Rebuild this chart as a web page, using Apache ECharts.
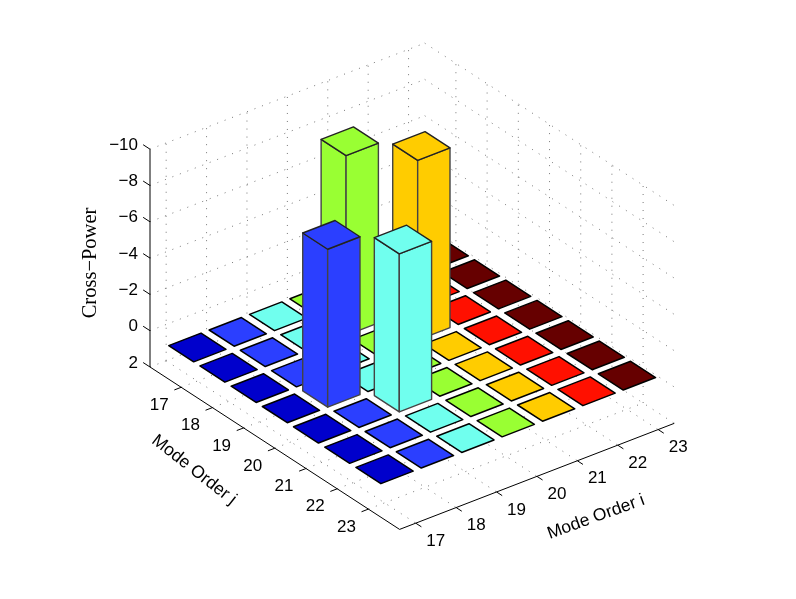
<!DOCTYPE html>
<html>
<head>
<meta charset="utf-8">
<style>
  html, body { margin: 0; padding: 0; background: #fff; }
  #main { width: 796px; height: 599px; }
</style>
<script src="https://cdn.jsdelivr.net/npm/echarts@6/dist/echarts.min.js"></script>
</head>
<body>
<div id="main"></div>
<script>
// data
var iOrders = [17, 18, 19, 20, 21, 22, 23];
var jOrders = [17, 18, 19, 20, 21, 22, 23];
var zTicks = [2, 0, -2, -4, -6, -8, -10];
var iColors = ['#0000cc', '#2b3fff', '#70ffee', '#99ff33', '#ffcc00', '#ff1000', '#660000'];
// one row per j, one column per i
var row17 = [0.15, 0.15, 0.15, 0.15, 0.15, 0.15, 0.15];
var row18 = [0.15, 0.15, 0.15, -9.75, 0.15, 0.15, 0.15];
var row19 = [0.15, 0.15, 0.15, 0.15, -9.75, 0.15, 0.15];
var row20 = [0.15, -8.55, 0.15, 0.15, 0.15, 0.15, 0.15];
var row21 = [0.15, 0.15, -8.55, 0.15, 0.15, 0.15, 0.15];
var row22 = [0.15, 0.15, 0.15, 0.15, 0.15, 0.15, 0.15];
var row23 = [0.15, 0.15, 0.15, 0.15, 0.15, 0.15, 0.15];
var crossPower = [row17, row18, row19, row20, row21, row22, row23];
var floorLevel = 0.15;

// axis limits of the 3d box
var iMin = 16.6, iMax = 23.4, jMin = 16, jMax = 24, zBottom = 2, zTop = -10;
var barHalf = 0.4;

// view: where one unit of i, j, z lands on the paper
function project(i, j, z) {
  return [
    150 + (i - iMin) * 40.4 + (j - jMin) * 31.2,
    367 - (i - iMin) * 15.6 + (j - jMin) * 20.3 + (z - zBottom) * 18.15
  ];
}

// bars, back to front
var barData = [];
jOrders.forEach(function (j, r) {
  iOrders.forEach(function (i, c) {
    barData.push([i, j, crossPower[r][c], c]);
  });
});
barData.sort(function (a, b) { return (a[1] - a[0]) - (b[1] - b[0]); });

// dotted grid on floor and the two back walls
var gridData = [];
iOrders.forEach(function (i) {
  gridData.push([i, jMin, zBottom, i, jMax, zBottom]);
  gridData.push([i, jMin, zBottom, i, jMin, zTop]);
});
jOrders.forEach(function (j) {
  gridData.push([iMin, j, zBottom, iMax, j, zBottom]);
  gridData.push([iMax, j, zBottom, iMax, j, zTop]);
});
zTicks.forEach(function (z) {
  gridData.push([iMin, jMin, z, iMax, jMin, z]);
  gridData.push([iMax, jMin, z, iMax, jMax, z]);
});

// solid axes and tick marks
var axisData = [
  [iMin, jMin, zBottom, iMin, jMin, zTop],
  [iMin, jMin, zBottom, iMin, jMax, zBottom],
  [iMin, jMax, zBottom, iMax, jMax, zBottom]
];
zTicks.forEach(function (z) { axisData.push([iMin, jMin, z, iMin, jMin - 0.22, z]); });
jOrders.forEach(function (j) { axisData.push([iMin, j, zBottom, iMin - 0.17, j, zBottom]); });
iOrders.forEach(function (i) { axisData.push([i, jMax, zBottom, i, jMax + 0.18, zBottom]); });

// tick labels: [i, j, z, text, dx, dy, align]
var labelData = [];
zTicks.forEach(function (z) {
  labelData.push([iMin, jMin, z, String(z).replace('-', '\u2212'), -12, -4, 'right']);
});
jOrders.forEach(function (j) { labelData.push([iMin, j, zBottom, String(j), -22, 18, 'center']); });
iOrders.forEach(function (i) { labelData.push([i, jMax, zBottom, String(i), 20, 18, 'center']); });

function renderSegment(lineStyle) {
  return function (params, api) {
    var a = api.coord(project(api.value(0), api.value(1), api.value(2)));
    var b = api.coord(project(api.value(3), api.value(4), api.value(5)));
    return {
      type: 'line',
      shape: { x1: a[0], y1: a[1], x2: b[0], y2: b[1] },
      style: lineStyle
    };
  };
}

function renderBar(params, api) {
  var i = api.value(0), j = api.value(1), v = api.value(2);
  var color = iColors[api.value(3)];
  var pt = function (di, dj, z) {
    return api.coord(project(i + di * barHalf, j + dj * barHalf, z));
  };
  var face = function (pts, edge, w) {
    return {
      type: 'polygon',
      shape: { points: pts },
      style: { fill: color, stroke: edge, lineWidth: w, lineJoin: 'round' }
    };
  };
  if (v === floorLevel) {
    return {
      type: 'group',
      children: [face([pt(-1, -1, v), pt(-1, 1, v), pt(1, 1, v), pt(1, -1, v)], '#000', 1.5)]
    };
  }
  return {
    type: 'group',
    children: [
      face([pt(-1, -1, floorLevel), pt(-1, 1, floorLevel), pt(-1, 1, v), pt(-1, -1, v)], '#444', 1.4),
      face([pt(-1, 1, floorLevel), pt(1, 1, floorLevel), pt(1, 1, v), pt(-1, 1, v)], '#444', 1.4),
      face([pt(-1, -1, v), pt(-1, 1, v), pt(1, 1, v), pt(1, -1, v)], '#222', 1.4)
    ]
  };
}

function renderLabel(params, api) {
  var d = labelData[params.dataIndex];
  var p = api.coord(project(d[0], d[1], d[2]));
  return {
    type: 'text',
    x: p[0] + d[4],
    y: p[1] + d[5],
    style: {
      text: d[3],
      fill: '#000',
      font: '17px "Liberation Sans"',
      textAlign: d[6],
      textVerticalAlign: 'middle'
    }
  };
}

function title(text, x, y, deg, font) {
  return {
    type: 'text',
    x: x,
    y: y,
    rotation: deg * Math.PI / 180,
    style: { text: text, fill: '#000', font: font, textAlign: 'center', textVerticalAlign: 'middle' }
  };
}

var myChart = echarts.init(document.getElementById('main'), null, { renderer: 'canvas' });
myChart.setOption({
  backgroundColor: '#fff',
  animation: false,
  grid: { left: 0, right: 0, top: 0, bottom: 0 },
  xAxis: { type: 'value', min: 0, max: 796, show: false },
  yAxis: { type: 'value', min: 0, max: 599, inverse: true, show: false },
  tooltip: { show: false },
  series: [
    {
      name: 'grid', type: 'custom', coordinateSystem: 'cartesian2d', silent: true, clip: false, z: 1,
      data: gridData, renderItem: renderSegment({ stroke: '#777', lineWidth: 1, lineDash: [1, 7] })
    },
    {
      name: 'axes', type: 'custom', coordinateSystem: 'cartesian2d', silent: true, clip: false, z: 2,
      data: axisData, renderItem: renderSegment({ stroke: '#000', lineWidth: 1 })
    },
    {
      name: 'Cross-Power', type: 'custom', coordinateSystem: 'cartesian2d', silent: true, clip: false, z: 3,
      data: barData, renderItem: renderBar
    },
    {
      name: 'labels', type: 'custom', coordinateSystem: 'cartesian2d', silent: true, clip: false, z: 4,
      data: labelData.map(function (d, k) { return [k]; }), renderItem: renderLabel
    }
  ],
  graphic: [
    title('Cross\u2212Power', 91, 263, 90, '20.5px "Liberation Serif"'),
    title('Mode Order j', 194, 470, -38, '17.5px "Liberation Sans"'),
    title('Mode Order i', 596, 517, 20, '17.5px "Liberation Sans"')
  ]
});
</script>
</body>
</html>
